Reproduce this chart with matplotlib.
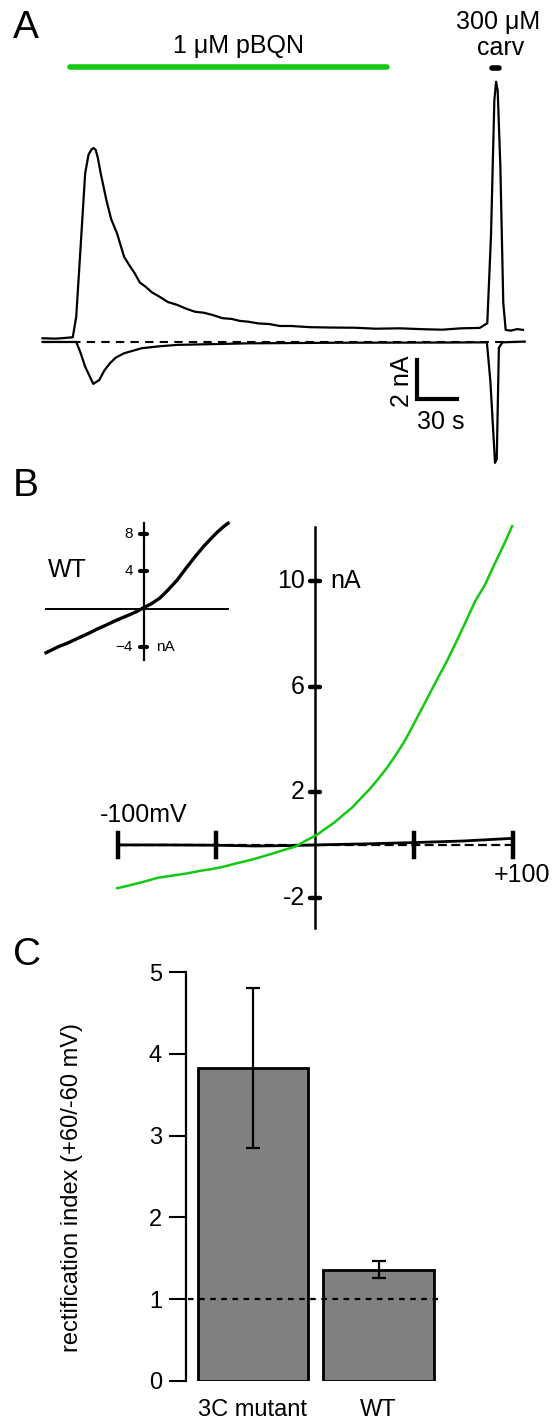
import numpy as np
import matplotlib
matplotlib.use("Agg")
import matplotlib.pyplot as plt

plt.rcParams['font.family'] = ['Liberation Sans', 'DejaVu Sans']

W, H = 553, 1425

# ---- panel A: current traces (time in s, current in nA)
t_up = [0, 10, 22.7, 25.3, 28.5, 32.0, 34.5, 36.8, 38.4, 39.9, 41.5, 43.5, 47.9, 51.5, 55.9, 61.2,
        65.0, 69.2, 73.0, 77.2, 82.0, 87.8, 94.0, 101.1, 108.0, 114.4, 121.0, 127.8, 135.0, 142.0,
        148.0, 154.3, 162.0, 170.0, 178.0, 186.3, 200.0, 215.0, 234.1, 250.0, 268.0, 287.3, 300.0,
        314.0, 328.0, 333.7, 336.5, 339.0, 340.3, 341.5, 343.5, 345.7, 347.5, 351.2, 356.0, 360.5]
i_up = [0.19, 0.17, 0.24, 1.30, 4.8, 8.65, 9.6, 9.88, 9.95, 9.85, 9.45, 8.7, 7.28, 6.3, 5.57, 4.37,
        3.95, 3.52, 3.05, 2.84, 2.55, 2.32, 2.05, 1.90, 1.70, 1.55, 1.50, 1.38, 1.22, 1.18,
        1.08, 1.04, 0.95, 0.92, 0.82, 0.82, 0.76, 0.74, 0.73, 0.68, 0.70, 0.65, 0.63,
        0.70, 0.72, 0.96, 5.5, 12.4, 13.35, 12.9, 9.0, 2.0, 0.62, 0.58, 0.66, 0.62]

t_low = [0, 25.3, 28.5, 32.0, 38.1, 42.6, 46.5, 50.6, 55.0, 61.2, 74.5, 88.0, 101.1, 154.3,
         220.0, 300.0, 333.4, 336.0, 339.5, 340.8, 342.4, 345.0, 361.8]
i_low = [0.0, 0.0, -0.55, -1.27, -2.15, -1.95, -1.45, -1.09, -0.80, -0.58, -0.32, -0.22, -0.15, -0.07,
         -0.04, -0.03, -0.02, -2.0, -6.2, -6.0, -0.3, -0.02, 0.02]

pbqn_on, pbqn_off = 20.6, 258.4
carv_on, carv_off = 337.5, 342.5

# ---- panel B: I-V relations (mV, nA)
v_green = [-100.2, -95, -88, -79.3, -72, -65, -58, -52.6, -46, -40, -34.8, -27, -20, -14, -9.8,
           -5, 0.9, 5, 9.8, 14, 18.7, 23, 27.6, 32, 36.5, 41, 45.4, 48, 50.8, 54, 57.9, 62,
           66.8, 71, 75.7, 81.1, 86, 90.0, 95, 99.8]
i_green = [-1.64, -1.55, -1.42, -1.24, -1.16, -1.08, -0.98, -0.92, -0.82, -0.70, -0.61, -0.45, -0.29,
           -0.15, -0.06, 0.15, 0.38, 0.60, 0.85, 1.12, 1.41, 1.75, 2.11, 2.50, 2.93, 3.42, 3.94,
           4.30, 4.70, 5.15, 5.71, 6.30, 6.97, 7.62, 8.36, 9.24, 9.85, 10.5, 11.28, 12.08]
v_black = [-100, -75, -50, -30, -10, 0, 25, 50, 75, 100]
i_black = [0.0, 0.0, -0.01, -0.04, -0.02, 0.0, 0.04, 0.09, 0.15, 0.25]
b_yticks = [10, 6, 2, -2]
b_xticks = [-100, -50, 50, 100]

v_wt = [-114.7, -100, -90, -77, -64.6, -55, -45, -38, -31.3, -22, -15, -7, 0, 9, 18.8, 28, 39.6,
        50, 60.5, 71, 81.4, 87, 92, 96, 99.3]
i_wt = [-4.65, -4.0, -3.65, -3.1, -2.59, -2.15, -1.75, -1.45, -1.17, -0.82, -0.55, -0.22, 0.14,
        0.55, 1.14, 1.95, 3.09, 4.35, 5.56, 6.70, 7.69, 8.2, 8.6, 8.9, 9.12]
wt_yticks = [8, 4, -4]

# ---- panel C: rectification index
groups = ['3C mutant', 'WT']
ri_mean = [3.83, 1.36]
ri_err = [0.98, 0.10]

green = '#14c814'
fig = plt.figure(figsize=(W / 100, H / 100), dpi=100)


def px_axes(x0, y0, x1, y1):
    return fig.add_axes([x0 / W, 1 - y1 / H, (x1 - x0) / W, (y1 - y0) / H])


# Panel A
axA = px_axes(0, 0, W, 480)
axA.set_xlim(-31.9, 383.0)
axA.set_ylim(-7.08, 17.54)
axA.axis('off')
axA.plot([0, 361.8], [0, 0], color='k', lw=1.5, ls=(0, (4, 3)))
axA.plot(t_low, i_low, color='k', lw=1.6, solid_joinstyle='round')
axA.plot(t_up, i_up, color='k', lw=1.6, solid_joinstyle='round')
axA.plot([pbqn_on, pbqn_off], [14.1, 14.1], color=green, lw=4, solid_capstyle='round')
axA.plot([carv_on, carv_off], [14.05, 14.05], color='k', lw=4, solid_capstyle='round')
axA.text(146.7, 15.2, '1 \u03bcM pBQN', ha='center', va='center', fontsize=18)
axA.text(341.5, 16.4, '300 \u03bcM', ha='center', va='center', fontsize=18)
axA.text(343.5, 15.1, 'carv', ha='center', va='center', fontsize=18)
# scale bar
axA.plot([280.9, 280.9, 310.9], [-0.92, -2.92, -2.92], color='k', lw=3, solid_joinstyle='miter')
axA.text(269.8, -2.0, '2 nA', rotation=90, ha='center', va='center', fontsize=18)
axA.text(298.5, -4.1, '30 s', ha='center', va='center', fontsize=18)

# Panel B main
axB = px_axes(0, 480, W, 960)
axB.set_xlim(-159.5, 120.5)
axB.set_ylim(-4.36, 13.83)
axB.axis('off')
axB.plot([-100, 100], [0, 0], color='k', lw=1.6, ls=(0, (4, 2)))
axB.plot(v_black, i_black, color='k', lw=2)
axB.plot([0, 0], [-3.14, 12.05], color='k', lw=1.8)
for xv in b_xticks:
    axB.plot([xv, xv], [-0.45, 0.45], color='k', lw=3.2)
for yv in b_yticks:
    axB.plot([-2.5, 2.5], [yv, yv], color='k', lw=3.2, solid_capstyle='round')
    axB.text(-5.2, yv, str(yv), ha='right', va='center', fontsize=18)
axB.text(7.6, 10, 'nA', ha='left', va='center', fontsize=18)
axB.text(-108.9, 1.14, '-100mV', ha='left', va='center', fontsize=18)
axB.text(90.5, -1.14, '+100', ha='left', va='center', fontsize=18)
axB.plot(v_green, i_green, color=green, lw=1.8)

# Panel B inset (WT)
axI = px_axes(0, 480, 260, 700)
axI.set_xlim(-168.9, 136.9)
axI.set_ylim(-9.68, 13.72)
axI.axis('off')
axI.patch.set_alpha(0)
axI.plot([-114.8, 99.3], [0, 0], color='k', lw=1.4)
axI.plot([0, 0], [-5.43, 9.15], color='k', lw=1.6)
for yv in wt_yticks:
    axI.plot([-4.5, 4.5], [yv, yv], color='k', lw=3, solid_capstyle='round')
    axI.text(-12.5, yv, str(yv).replace('-', '\u2212'), ha='right', va='center', fontsize=11)
axI.text(14.6, -4, 'nA', ha='left', va='center', fontsize=11)
axI.text(-112.5, 4.15, 'WT', ha='left', va='center', fontsize=18)
axI.plot(v_wt, i_wt, color='k', lw=2.4)

# Panel C
axC = px_axes(185.5, 972.3, 445, 1380.7)
xpos = np.arange(len(groups))
axC.bar(xpos, ri_mean, width=0.88, color='#808080', edgecolor='k', linewidth=2, zorder=2)
axC.errorbar(xpos, ri_mean, yerr=ri_err, fmt='none', ecolor='k', elinewidth=1.6,
             capsize=5, capthick=1.6, zorder=3)
axC.plot([-0.52, 1.47], [1, 1], color='k', lw=1.6, ls=(0, (2.5, 2.5)), zorder=4)
axC.set_xlim(-0.537, 1.529)
axC.set_ylim(0, 5)
for s in ['top', 'right', 'bottom']:
    axC.spines[s].set_visible(False)
axC.spines['left'].set_linewidth(1.6)
axC.set_yticks([0, 1, 2, 3, 4, 5])
axC.tick_params(axis='y', length=12, width=1.5, labelsize=17, pad=5)
axC.set_xticks(xpos)
axC.set_xticklabels(groups, fontsize=17)
axC.tick_params(axis='x', length=0, pad=13)
fig.text(72 / W, 1 - 1187 / H, 'rectification index (+60/-60 mV)', rotation=90,
         ha='center', va='center', fontsize=17)

# panel letters
fig.text(13 / W, 1 - 38 / H, 'A', fontsize=28, va='baseline')
fig.text(13 / W, 1 - 496 / H, 'B', fontsize=28, va='baseline')
fig.text(13 / W, 1 - 965 / H, 'C', fontsize=28, va='baseline')

fig.savefig('out.png', dpi=100)
